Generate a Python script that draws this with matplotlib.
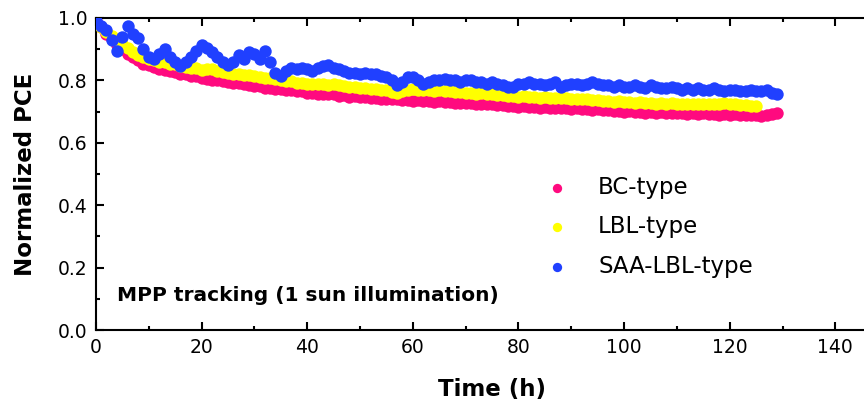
import numpy as np
import matplotlib
matplotlib.use("Agg")
import matplotlib.pyplot as plt
from matplotlib.ticker import MultipleLocator

plt.rcParams['font.family'] = ['DejaVu Sans']

# time in hours, one reading per hour
bc_time = np.arange(0, 130)
bc_pce = [0.990, 0.972, 0.950, 0.932, 0.915, 0.902, 0.886, 0.874, 0.866, 0.853, 0.848,
          0.843, 0.836, 0.834, 0.829, 0.827, 0.821, 0.820, 0.814, 0.813, 0.808,
          0.806, 0.802, 0.802, 0.797, 0.796, 0.792, 0.791, 0.787, 0.786, 0.781,
          0.781, 0.777, 0.777, 0.774, 0.773, 0.769, 0.769, 0.765, 0.765, 0.761,
          0.761, 0.758, 0.758, 0.755, 0.755, 0.751, 0.752, 0.748, 0.749, 0.746,
          0.746, 0.743, 0.744, 0.740, 0.741, 0.739, 0.739, 0.736, 0.738, 0.735,
          0.736, 0.733, 0.734, 0.731, 0.733, 0.730, 0.731, 0.728, 0.729, 0.727,
          0.728, 0.725, 0.726, 0.723, 0.724, 0.721, 0.722, 0.719, 0.718, 0.715,
          0.717, 0.714, 0.715, 0.713, 0.714, 0.711, 0.713, 0.710, 0.711, 0.709,
          0.710, 0.707, 0.708, 0.705, 0.707, 0.704, 0.705, 0.702, 0.703, 0.700,
          0.701, 0.699, 0.700, 0.697, 0.699, 0.696, 0.698, 0.695, 0.697, 0.694,
          0.696, 0.693, 0.695, 0.692, 0.694, 0.691, 0.693, 0.690, 0.692, 0.689,
          0.691, 0.689, 0.690, 0.688, 0.690, 0.687, 0.689, 0.691, 0.694]

lbl_time = np.arange(0, 126)
lbl_pce = [0.985, 0.970, 0.955, 0.942, 0.930, 0.918, 0.905, 0.892, 0.882, 0.874, 0.870,
           0.866, 0.860, 0.859, 0.852, 0.851, 0.846, 0.844, 0.840, 0.839, 0.834,
           0.836, 0.838, 0.829, 0.826, 0.825, 0.821, 0.821, 0.817, 0.818, 0.814,
           0.812, 0.809, 0.807, 0.803, 0.801, 0.798, 0.797, 0.793, 0.793, 0.789,
           0.790, 0.787, 0.789, 0.786, 0.788, 0.784, 0.783, 0.779, 0.779, 0.775,
           0.776, 0.772, 0.773, 0.769, 0.768, 0.764, 0.761, 0.765, 0.769, 0.771,
           0.770, 0.768, 0.769, 0.767, 0.768, 0.765, 0.766, 0.763, 0.764, 0.761,
           0.761, 0.758, 0.759, 0.756, 0.757, 0.753, 0.753, 0.749, 0.750, 0.747,
           0.749, 0.746, 0.748, 0.745, 0.747, 0.744, 0.745, 0.743, 0.744, 0.741,
           0.742, 0.739, 0.739, 0.736, 0.737, 0.734, 0.735, 0.732, 0.733, 0.730,
           0.731, 0.729, 0.730, 0.727, 0.729, 0.726, 0.728, 0.725, 0.727, 0.724,
           0.726, 0.724, 0.725, 0.723, 0.725, 0.724, 0.726, 0.725, 0.727, 0.724,
           0.725, 0.722, 0.721, 0.719, 0.718]

saa_time = np.arange(0, 130)
saa_pce = [0.990, 0.975, 0.960, 0.930, 0.895, 0.940, 0.975, 0.950, 0.935, 0.900, 0.875,
           0.870, 0.885, 0.900, 0.875, 0.860, 0.845, 0.860, 0.875, 0.895, 0.915,
           0.905, 0.890, 0.875, 0.860, 0.850, 0.860, 0.880, 0.870, 0.890, 0.885,
           0.870, 0.895, 0.860, 0.825, 0.815, 0.830, 0.840, 0.835, 0.840, 0.835,
           0.830, 0.840, 0.845, 0.850, 0.840, 0.835, 0.830, 0.825, 0.825, 0.820,
           0.825, 0.820, 0.820, 0.815, 0.810, 0.800, 0.785, 0.795, 0.810, 0.810,
           0.800, 0.790, 0.795, 0.800, 0.800, 0.805, 0.800, 0.800, 0.795, 0.800,
           0.800, 0.795, 0.795, 0.790, 0.795, 0.790, 0.785, 0.780, 0.780, 0.790,
           0.790, 0.795, 0.790, 0.790, 0.785, 0.790, 0.795, 0.780, 0.785, 0.790,
           0.790, 0.785, 0.790, 0.795, 0.790, 0.785, 0.785, 0.780, 0.785, 0.780,
           0.780, 0.785, 0.780, 0.775, 0.785, 0.780, 0.775, 0.775, 0.780, 0.775,
           0.770, 0.775, 0.770, 0.775, 0.770, 0.770, 0.775, 0.770, 0.765, 0.770,
           0.770, 0.765, 0.765, 0.770, 0.765, 0.765, 0.770, 0.760, 0.758]

fig = plt.figure(figsize=(8.64, 4.09), dpi=100)
ax = fig.add_axes([0.111, 0.193, 0.917, 0.763])

ms = 80
ax.scatter(bc_time, bc_pce, s=ms, color="#ff0a7f", label="BC-type", zorder=2, linewidths=0)
ax.scatter(lbl_time, lbl_pce, s=ms, color="#ffff00", label="LBL-type", zorder=3, linewidths=0)
ax.scatter(saa_time, saa_pce, s=ms, color="#2040ff", label="SAA-LBL-type", zorder=4, linewidths=0)

ax.set_xlim(0, 150)
ax.set_ylim(0, 1.0)
ax.xaxis.set_major_locator(MultipleLocator(20))
ax.xaxis.set_minor_locator(MultipleLocator(10))
ax.yaxis.set_major_locator(MultipleLocator(0.2))
ax.yaxis.set_minor_locator(MultipleLocator(0.1))
ax.yaxis.set_major_formatter(plt.FormatStrFormatter('%.1f'))
ax.tick_params(which='both', direction='in', top=True, right=True, width=1.5,
               labelsize=13.5, pad=6)
ax.tick_params(which='major', length=6)
ax.tick_params(which='minor', length=3)
for sp in ax.spines.values():
    sp.set_linewidth(1.5)

ax.set_xlabel("Time (h)", fontsize=16.5, fontweight='bold', labelpad=15)
ax.set_ylabel("Normalized PCE", fontsize=16.5, fontweight='bold', labelpad=15)
ax.text(0.0265, 0.11, "MPP tracking (1 sun illumination)", transform=ax.transAxes,
        fontsize=14.5, fontweight='bold', va='center')

ax.legend(loc='upper left', bbox_to_anchor=(0.553, 0.495), frameon=False, fontsize=16.5,
          handletextpad=0.8, labelspacing=0.72, borderpad=0, borderaxespad=0,
          scatterpoints=1, markerscale=0.75)

fig.savefig("out.png", dpi=100)
